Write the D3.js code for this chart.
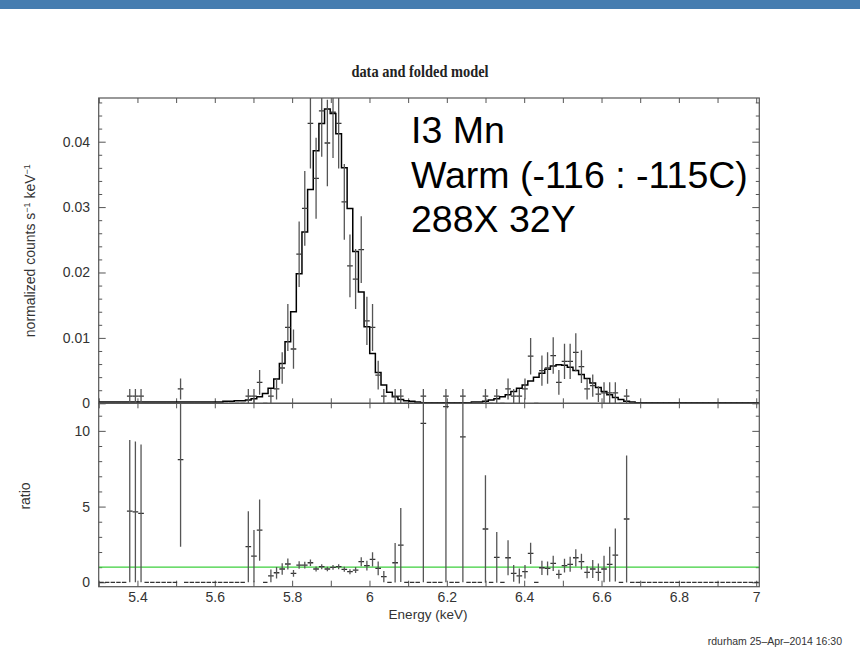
<!DOCTYPE html>
<html>
<head>
<meta charset="utf-8">
<script src="https://cdnjs.cloudflare.com/ajax/libs/d3/7.8.5/d3.min.js"></script>
<style>
  body { margin: 0; background: #fff; }
  svg { display: block; }
</style>
</head>
<body>
<div id="svg-area"></div>
<script>
// channel edges (keV), one more than the channels
var energyEdges = [
  5.2998, 5.3144, 5.3290, 5.3436, 5.3582, 5.3728, 5.3874, 5.4020, 5.4166, 5.4312,
  5.4458, 5.4604, 5.4750, 5.4896, 5.5042, 5.5188, 5.5334, 5.5480, 5.5626, 5.5772,
  5.5918, 5.6064, 5.6210, 5.6356, 5.6502, 5.6648, 5.6794, 5.6940, 5.7086, 5.7232,
  5.7378, 5.7524, 5.7670, 5.7816, 5.7962, 5.8108, 5.8254, 5.8400, 5.8546, 5.8692,
  5.8838, 5.8984, 5.9130, 5.9276, 5.9422, 5.9568, 5.9714, 5.9860, 6.0006, 6.0152,
  6.0298, 6.0444, 6.0590, 6.0736, 6.0882, 6.1028, 6.1174, 6.1320, 6.1466, 6.1612,
  6.1758, 6.1904, 6.2050, 6.2196, 6.2342, 6.2488, 6.2634, 6.2780, 6.2926, 6.3072,
  6.3218, 6.3364, 6.3510, 6.3656, 6.3802, 6.3948, 6.4094, 6.4240, 6.4386, 6.4532,
  6.4678, 6.4824, 6.4970, 6.5116, 6.5262, 6.5408, 6.5554, 6.5700, 6.5846, 6.5992,
  6.6138, 6.6284, 6.6430, 6.6576, 6.6722, 6.6868, 6.7014, 6.7160, 6.7306, 6.7452,
  6.7598, 6.7744, 6.7890, 6.8036, 6.8182, 6.8328, 6.8474, 6.8620, 6.8766, 6.8912,
  6.9058, 6.9204, 6.9350, 6.9496, 6.9642, 6.9788, 6.9934, 7.0080
];

// folded model, one value per channel
var modelRate = [
  0.0002, 0.0002, 0.0002, 0.0002, 0.0002, 0.0002, 0.0002, 0.0002, 0.0002, 0.0002,
  0.0002, 0.0002, 0.0002, 0.0002, 0.0002, 0.0002, 0.0002, 0.0002, 0.0002, 0.0002,
  0.0002, 0.0002, 0.0003, 0.0003, 0.0004, 0.0004, 0.0005, 0.0007, 0.0010, 0.0015,
  0.0023, 0.0037, 0.0061, 0.0094, 0.0140, 0.0198, 0.0262, 0.0327, 0.0386, 0.0428,
  0.0450, 0.0443, 0.0412, 0.0360, 0.0298, 0.0232, 0.0170, 0.0117, 0.0076, 0.0047,
  0.0028, 0.0017, 0.0010, 0.0006, 0.0004, 0.0003, 0.0002, 0.0001, 0.0001, 0.0001,
  0.0001, 0.0001, 0.0001, 0.0001, 0.0001, 0.0001, 0.0002, 0.0002, 0.0003, 0.0005,
  0.0007, 0.0010, 0.0013, 0.0018, 0.0023, 0.0028, 0.0034, 0.0040, 0.0046, 0.0052,
  0.0057, 0.0059, 0.0058, 0.0055, 0.0050, 0.0044, 0.0038, 0.0031, 0.0024, 0.0018,
  0.0013, 0.0009, 0.0006, 0.0003, 0.0002, 0.0001, 0.0001, 0.0001, 0.0001, 0.0001,
  0.0001, 0.0001, 0.0001, 0.0001, 0.0001, 0.0001, 0.0001, 0.0001, 0.0001, 0.0001,
  0.0001, 0.0001, 0.0001, 0.0001, 0.0001, 0.0001, 0.0001
];

// channels that have counts (all others are empty)
var dataChan = [5, 6, 7, 14, 26, 27, 28, 30, 31, 32, 33, 34, 35, 36, 37, 38, 39, 40,
  41, 42, 43, 44, 45, 46, 47, 48, 49, 50, 52, 53, 57, 61, 64, 68, 70, 72, 73, 74, 75,
  76, 78, 79, 80, 81, 82, 83, 84, 85, 86, 87, 88, 89, 90, 91, 93];

var dataRate = [0.0011, 0.0011, 0.0011, 0.0022, 0.0011, 0.0011, 0.0032, 0.0011, 0.0022,
  0.0054, 0.0116, 0.0083, 0.0228, 0.0298, 0.0428, 0.0344, 0.0447, 0.0398, 0.0445,
  0.0428, 0.0308, 0.0210, 0.0190, 0.0235, 0.0126, 0.0116, 0.0043, 0.0011, 0.0011,
  0.0011, 0.0011, 0.0011, 0.0011, 0.0011, 0.0011, 0.0022, 0.0011, 0.0011, 0.0022,
  0.0072, 0.0050, 0.0054, 0.0073, 0.0032, 0.0064, 0.0064, 0.0078, 0.0056, 0.0022,
  0.0027, 0.0014, 0.0016, 0.0016, 0.0016, 0.0011];

var dataRateErr = [0.0011, 0.0011, 0.0011, 0.0016, 0.0011, 0.0011, 0.0019, 0.0011, 0.0016,
  0.0024, 0.0036, 0.0030, 0.0050, 0.0057, 0.0069, 0.0062, 0.0070, 0.0066, 0.0070,
  0.0069, 0.0058, 0.0048, 0.0046, 0.0051, 0.0037, 0.0036, 0.0022, 0.0011, 0.0011,
  0.0011, 0.0011, 0.0011, 0.0011, 0.0011, 0.0011, 0.0016, 0.0011, 0.0011, 0.0016,
  0.0028, 0.0023, 0.0024, 0.0028, 0.0019, 0.0027, 0.0027, 0.0029, 0.0025, 0.0016,
  0.0017, 0.0012, 0.0016, 0.0016, 0.0016, 0.0011];

var dataRatio = [4.70, 4.65, 4.55, 8.10, 2.35, 1.73, 3.45, 0.42, 0.63, 0.88, 1.21, 0.59,
  1.14, 1.14, 1.29, 0.88, 1.03, 0.88, 0.99, 1.03, 0.86, 0.70, 0.81, 1.36, 1.10, 1.52,
  0.92, 0.37, 1.29, 2.46, 10.5, 11.6, 9.6, 3.52, 1.65, 1.62, 0.59, 0.42, 0.70, 1.91,
  0.96, 0.92, 1.25, 0.53, 1.10, 1.19, 1.62, 1.36, 0.66, 0.88, 0.66, 0.88, 1.19, 1.80, 4.18];

var dataRatioErr = [4.70, 4.65, 4.55, 5.75, 2.35, 1.72, 2.02, 0.42, 0.38, 0.38, 0.36, 0.22,
  0.25, 0.22, 0.21, 0.16, 0.16, 0.15, 0.16, 0.17, 0.16, 0.16, 0.20, 0.30, 0.32, 0.47,
  0.46, 0.37, 1.30, 2.44, 10.5, 11.6, 9.6, 3.55, 1.68, 1.15, 0.55, 0.50, 0.45, 0.70,
  0.47, 0.46, 0.50, 0.30, 0.46, 0.50, 0.57, 0.52, 0.40, 0.60, 0.58, 0.88, 1.15, 1.75, 4.20];

// tick labels
var energyTicks = [5.4, 5.6, 5.8, 6, 6.2, 6.4, 6.6, 6.8, 7];
var rateTicks = [0, 0.01, 0.02, 0.03, 0.04];
var ratioTicks = [0, 5, 10];
var noteLines = ["I3 Mn", "Warm (-116 : -115C)", "288X 32Y"];

// create svg area
var svgWidth = 860;
var svgHeight = 670;

var plot = { left: 98.7, right: 759.3, top: 98, mid: 403.3, bottom: 586.7 };
var frameColor = "#555";
var dataColor = "#333";
var labelFont = "'Liberation Sans', Arial, Helvetica, sans-serif";

var svg = d3.select("#svg-area")
  .append("svg")
  .attr("width", svgWidth)
  .attr("height", svgHeight);

svg.append("rect")
  .attr("width", svgWidth)
  .attr("height", svgHeight)
  .attr("fill", "#fff");

// blue band at the top of the slide
svg.append("rect")
  .attr("x", 0)
  .attr("y", 0)
  .attr("width", svgWidth)
  .attr("height", 9)
  .attr("fill", "#467db0");

// Step 1: scales
// ==============================
var xScale = d3.scaleLinear()
  .domain([energyEdges[0], energyEdges[energyEdges.length - 1]])
  .range([plot.left, plot.right]);

var yTop = d3.scaleLinear()
  .domain([0, 0.04668])
  .range([plot.mid, plot.top]);

var yRatio = d3.scaleLinear()
  .domain([-0.29, 11.82])
  .range([plot.bottom, plot.mid]);

// clip regions for each panel
var defs = svg.append("defs");
defs.append("clipPath").attr("id", "clipTop")
  .append("rect")
  .attr("x", plot.left).attr("y", plot.top)
  .attr("width", plot.right - plot.left).attr("height", plot.mid - plot.top);
defs.append("clipPath").attr("id", "clipRatio")
  .append("rect")
  .attr("x", plot.left).attr("y", plot.mid)
  .attr("width", plot.right - plot.left).attr("height", plot.bottom - plot.mid);

// Step 2: tick marks with d3 axes (no domain line, frame drawn later)
// ==============================
function tickAxis(axisFn, scale, values, size, transform) {
  var g = svg.append("g")
    .attr("transform", transform)
    .call(axisFn(scale).tickValues(values).tickSize(size).tickFormat(""));
  g.select(".domain").remove();
  g.selectAll("line").attr("stroke", frameColor).attr("stroke-width", 1);
  return g;
}

var xMinor = xScale.ticks(17);
var rateMinor = yTop.ticks(25).filter(d => rateTicks.indexOf(+d.toFixed(3)) < 0);
var ratioMinor = yRatio.ticks(12).filter(d => ratioTicks.indexOf(d) < 0);

// x ticks on every horizontal edge
tickAxis(d3.axisBottom, xScale, xMinor, 5, `translate(0, ${plot.top})`);
tickAxis(d3.axisTop, xScale, xMinor, 5, `translate(0, ${plot.mid})`);
tickAxis(d3.axisBottom, xScale, xMinor, 5, `translate(0, ${plot.mid})`);
tickAxis(d3.axisTop, xScale, xMinor, 6, `translate(0, ${plot.bottom})`);

// y ticks, both sides, pointing inward
tickAxis(d3.axisRight, yTop, rateTicks, 7, `translate(${plot.left}, 0)`);
tickAxis(d3.axisRight, yTop, rateMinor, 3.5, `translate(${plot.left}, 0)`);
tickAxis(d3.axisLeft, yTop, rateTicks, 7, `translate(${plot.right}, 0)`);
tickAxis(d3.axisLeft, yTop, rateMinor, 3.5, `translate(${plot.right}, 0)`);
tickAxis(d3.axisRight, yRatio, ratioTicks, 7, `translate(${plot.left}, 0)`);
tickAxis(d3.axisRight, yRatio, ratioMinor, 3.5, `translate(${plot.left}, 0)`);
tickAxis(d3.axisLeft, yRatio, ratioTicks, 7, `translate(${plot.right}, 0)`);
tickAxis(d3.axisLeft, yRatio, ratioMinor, 3.5, `translate(${plot.right}, 0)`);

// Step 3: tick labels
// ==============================
function labelAxis(axis, transform) {
  var g = svg.append("g")
    .attr("transform", transform)
    .call(axis);
  g.select(".domain").remove();
  g.selectAll("line").remove();
  g.attr("font-family", labelFont).attr("font-size", 14);
  g.selectAll("text").attr("fill", "#333");
  return g;
}

labelAxis(d3.axisLeft(yTop).tickValues(rateTicks).tickSize(0).tickPadding(8.7)
  .tickFormat(d => d === 0 ? "0" : d3.format(".2f")(d)), `translate(${plot.left}, 0)`);
labelAxis(d3.axisLeft(yRatio).tickValues(ratioTicks).tickSize(0).tickPadding(8.7)
  .tickFormat(d => String(d)), `translate(${plot.left}, 0)`);
labelAxis(d3.axisBottom(xScale).tickValues(energyTicks).tickSize(0).tickPadding(5.8)
  .tickFormat(d => String(d)), `translate(0, ${plot.bottom})`);

// Step 4: folded model as a step line
// ==============================
var modelPoints = modelRate.map((m, i) => ({ e: energyEdges[i], m: m }));
modelPoints.push({ e: energyEdges[energyEdges.length - 1], m: modelRate[modelRate.length - 1] });

var topGroup = svg.append("g").attr("clip-path", "url(#clipTop)");
var ratioGroup = svg.append("g").attr("clip-path", "url(#clipRatio)");

topGroup.append("path")
  .datum(modelPoints)
  .attr("fill", "none")
  .attr("stroke", "#000")
  .attr("stroke-width", 1.5)
  .attr("d", d3.line().x(d => xScale(d.e)).y(d => yTop(d.m)).curve(d3.curveStepAfter));

// Step 5: data crosses and empty channels
// ==============================
var points = dataChan.map((c, i) => ({
  lo: energyEdges[c], hi: energyEdges[c + 1], mid: (energyEdges[c] + energyEdges[c + 1]) / 2,
  rate: dataRate[i], rateErr: dataRateErr[i], ratio: dataRatio[i], ratioErr: dataRatioErr[i]
}));

var emptyChan = d3.range(modelRate.length).filter(c => dataChan.indexOf(c) < 0)
  .map(c => ({ lo: energyEdges[c], hi: energyEdges[c + 1] }));

function drawCrosses(group, yScale, valueKey, errKey) {
  var g = group.append("g")
    .attr("stroke", dataColor)
    .attr("stroke-width", 1.3);
  g.selectAll("line.h")
    .data(points)
    .enter()
    .append("line")
    .attr("class", "h")
    .attr("x1", d => xScale(d.lo))
    .attr("x2", d => xScale(d.hi))
    .attr("y1", d => yScale(d[valueKey]))
    .attr("y2", d => yScale(d[valueKey]));
  g.selectAll("line.v")
    .data(points)
    .enter()
    .append("line")
    .attr("class", "v")
    .attr("stroke", "#555")
    .attr("x1", d => xScale(d.mid))
    .attr("x2", d => xScale(d.mid))
    .attr("y1", d => yScale(d[valueKey] - d[errKey]))
    .attr("y2", d => yScale(d[valueKey] + d[errKey]));
  g.selectAll("line.z")
    .data(emptyChan)
    .enter()
    .append("line")
    .attr("class", "z")
    .attr("x1", d => xScale(d.lo) + 0.6)
    .attr("x2", d => xScale(d.hi) - 0.6)
    .attr("y1", yScale(0))
    .attr("y2", yScale(0));
}

drawCrosses(topGroup, yTop, "rate", "rateErr");

// ratio = 1 reference line
ratioGroup.append("line")
  .attr("x1", plot.left)
  .attr("x2", plot.right)
  .attr("y1", yRatio(1))
  .attr("y2", yRatio(1))
  .attr("stroke", "#3ccf3c")
  .attr("stroke-width", 1.2);

drawCrosses(ratioGroup, yRatio, "ratio", "ratioErr");

// Step 6: frames
// ==============================
[[plot.top, plot.mid], [plot.mid, plot.bottom]].forEach(function(p) {
  svg.append("rect")
    .attr("x", plot.left)
    .attr("y", p[0])
    .attr("width", plot.right - plot.left)
    .attr("height", p[1] - p[0])
    .attr("fill", "none")
    .attr("stroke", frameColor)
    .attr("stroke-width", 1.2);
});

// Step 7: titles and notes
// ==============================
svg.append("text")
  .attr("transform", "translate(420, 77) scale(0.9, 1)")
  .attr("text-anchor", "middle")
  .attr("font-family", "'Liberation Serif', 'Times New Roman', serif")
  .attr("font-weight", "bold")
  .attr("font-size", 16)
  .attr("fill", "#222")
  .text("data and folded model");

var yLabel = svg.append("text")
  .attr("transform", `translate(35, ${(plot.top + plot.mid) / 2}) rotate(-90)`)
  .attr("text-anchor", "middle")
  .attr("font-family", labelFont)
  .attr("font-size", 14)
  .attr("fill", "#333");
yLabel.append("tspan").text("normalized counts s");
yLabel.append("tspan").attr("font-size", 9).attr("dy", -5).text("\u22121");
yLabel.append("tspan").attr("dy", 5).text(" keV");
yLabel.append("tspan").attr("font-size", 9).attr("dy", -5).text("\u22121");

svg.append("text")
  .attr("transform", `translate(30, 496) rotate(-90)`)
  .attr("text-anchor", "middle")
  .attr("font-family", labelFont)
  .attr("font-size", 14)
  .attr("fill", "#333")
  .text("ratio");

svg.append("text")
  .attr("x", 428)
  .attr("y", 619)
  .attr("text-anchor", "middle")
  .attr("font-family", labelFont)
  .attr("font-size", 13.5)
  .attr("fill", "#333")
  .text("Energy (keV)");

svg.append("text")
  .attr("x", 842)
  .attr("y", 645)
  .attr("text-anchor", "end")
  .attr("font-family", labelFont)
  .attr("font-size", 10.5)
  .attr("fill", "#333")
  .text("rdurham 25\u2013Apr\u20132014 16:30");

svg.selectAll("text.note")
  .data(noteLines)
  .enter()
  .append("text")
  .attr("class", "note")
  .attr("x", 411)
  .attr("y", (d, i) => 143.3 + i * 44.4)
  .attr("font-family", labelFont)
  .attr("font-size", 37.5)
  .attr("fill", "#000")
  .text(d => d);
</script>
</body>
</html>
